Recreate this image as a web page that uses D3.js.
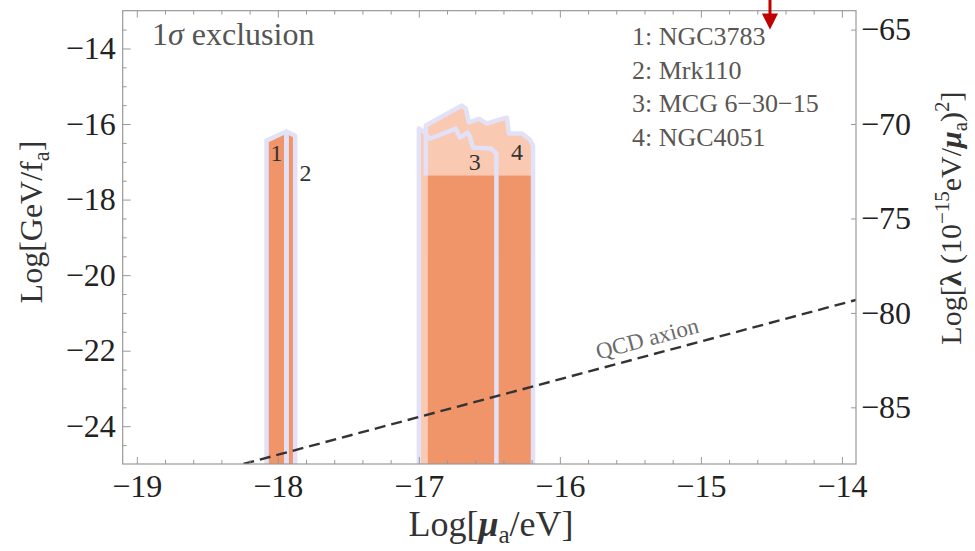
<!DOCTYPE html>
<html>
<head>
<meta charset="utf-8">
<script src="https://cdn.jsdelivr.net/npm/d3@7"></script>
<style>
body { margin: 0; background: #fff; }
svg { display: block; }
text { font-family: "Liberation Serif", "Times New Roman", serif; }
</style>
</head>
<body>
<svg id="chart" width="975" height="551"></svg>
<script>
// axis ticks
var xTicks = [-19, -18, -17, -16, -15, -14];
var yTicks = [-24, -22, -20, -18, -16, -14];
var rightTicks = [-85, -80, -75, -70, -65];

// legend
var sourceNames = ["1: NGC3783", "2: Mrk110", "3: MCG 6\u221230\u221215", "4: NGC4051"];

// top boundaries of the excluded regions (Log mu, Log GeV/f)
var ngc3783X = [-18.08, -17.94];
var ngc3783Y = [-16.44, -16.20];
var mrk110X = [-17.938, -17.877];
var mrk110Y = [-16.20, -16.31];
var mcgX = [-17.0, -16.965, -16.922, -16.738, -16.709, -16.653, -16.638, -16.617, -16.489, -16.45];
var mcgY = [-16.12, -16.20, -16.39, -16.12, -16.36, -16.23, -16.33, -16.62, -16.65, -16.78];
var ngc4051X = [-16.95, -16.695, -16.667, -16.645, -16.574, -16.518, -16.454, -16.376, -16.362, -16.27, -16.213, -16.19];
var ngc4051Y = [-16.04, -15.51, -15.59, -15.96, -15.86, -15.99, -15.91, -15.83, -16.25, -16.25, -16.41, -16.57];
var bandTop = -17.365;

// region number labels
var labelX = [-18.009, -17.803, -16.603, -16.304];
var labelY = [-16.757, -17.286, -16.995, -16.717];

// QCD axion line
var qcdX = [-18.244, -13.9];
var qcdY = [-25, -20.656];

// marker arrow
var arrowX = -14.51;
var arrowY = -13.5;

var svg = d3.select("#chart");
var pl = 122.7, pr = 856, pt = 10.7, pb = 464;

var x = d3.scaleLinear().domain([-19.1, -13.9]).range([pl, pr]);
var y = d3.scaleLinear().domain([-25, -13]).range([pb, pt]);
var y2 = d3.scaleLinear().domain([2 * -25 - 38, 2 * -13 - 38]).range([pb, pt]);

var lavender = "#e3e1f7", dark = "#f0956a", light = "#f9c9b1";

svg.append("clipPath").attr("id", "plot")
	.append("rect").attr("x", pl).attr("y", pt)
	.attr("width", pr - pl).attr("height", pb - pt);

var g = svg.append("g").attr("clip-path", "url(#plot)");

function pts(xs, ys) {
	return xs.map(function (d, i) { return [x(d), y(ys[i])]; });
}
function region(xs, ys) {
	var p = pts(xs, ys);
	p.unshift([x(xs[0]), y(-25) + 10]);
	p.push([x(xs[xs.length - 1]), y(-25) + 10]);
	return p;
}
var line = d3.line();

// light fills
g.append("path").attr("d", line(region(mcgX, mcgY)) + "Z").attr("fill", light);
g.append("path").attr("d", line(region(ngc4051X, ngc4051Y)) + "Z").attr("fill", light);

// dark fills
g.append("path").attr("d", line(region(ngc3783X, ngc3783Y)) + "Z").attr("fill", dark);
g.append("path").attr("d", line(region(mrk110X, mrk110Y)) + "Z").attr("fill", dark);
g.append("rect")
	.attr("x", x(ngc4051X[0]) + 2)
	.attr("y", y(bandTop))
	.attr("width", x(ngc4051X[ngc4051X.length - 1]) - x(ngc4051X[0]) - 2)
	.attr("height", pb - y(bandTop) + 10)
	.attr("fill", dark);

// boundaries
function outline(d) {
	g.append("path").attr("d", line(d))
		.attr("fill", "none").attr("stroke", lavender)
		.attr("stroke-width", 4.5).attr("stroke-linejoin", "round");
}
outline(region(ngc3783X, ngc3783Y));
outline(region(mrk110X, mrk110Y));
outline(region(mcgX, mcgY));
var r4 = region(ngc4051X, ngc4051Y);
r4[0] = [x(ngc4051X[0]), y(bandTop)];
outline(r4);

// QCD axion
var q = pts(qcdX, qcdY);
g.append("path").attr("d", line(q))
	.attr("fill", "none").attr("stroke", "#333")
	.attr("stroke-width", 2.4).attr("stroke-dasharray", "11,6");

var ang = Math.atan2(q[1][1] - q[0][1], q[1][0] - q[0][0]) * 180 / Math.PI;
var lx = x(-15.35), ly = y(-15.35 - 6.756);
svg.append("text")
	.attr("transform", "translate(" + lx + "," + ly + ") rotate(" + ang + ") translate(0,-9)")
	.attr("text-anchor", "middle").attr("font-size", 23).attr("fill", "#6a6a6a")
	.text("QCD axion");

// region labels
svg.selectAll(".rlab").data(labelX).enter().append("text")
	.attr("class", "rlab")
	.attr("x", function (d) { return x(d); })
	.attr("y", function (d, i) { return y(labelY[i]); })
	.attr("dy", "0.35em")
	.attr("text-anchor", "middle").attr("font-size", 24).attr("fill", "#333")
	.text(function (d, i) { return i + 1; });

// axes
var fmt = function (d) { return "\u2212" + Math.abs(d); };
var minorX = d3.range(-95, -69).map(function (d) { return d / 5; })
	.filter(function (d) { return xTicks.indexOf(d) < 0; });
var minorY = d3.range(-49, -26).map(function (d) { return d / 2; })
	.filter(function (d) { return yTicks.indexOf(d) < 0; });

function style(a) {
	a.select(".domain").remove();
	a.selectAll("line").attr("stroke", "#999").attr("stroke-width", 1);
	a.selectAll("text").attr("font-size", 32).attr("fill", "#222")
		.attr("font-family", "Liberation Serif, serif");
}

svg.append("g").attr("transform", "translate(0," + pb + ")")
	.call(d3.axisBottom(x).tickValues(xTicks).tickSize(-7).tickPadding(10).tickFormat(fmt)).call(style);
svg.append("g").attr("transform", "translate(0," + pb + ")")
	.call(d3.axisBottom(x).tickValues(minorX).tickSize(-4).tickFormat("")).call(style);
svg.append("g").attr("transform", "translate(0," + pt + ")")
	.call(d3.axisTop(x).tickValues(xTicks).tickSize(-7).tickFormat("")).call(style);
svg.append("g").attr("transform", "translate(0," + pt + ")")
	.call(d3.axisTop(x).tickValues(minorX).tickSize(-4).tickFormat("")).call(style);
svg.append("g").attr("transform", "translate(" + pl + ",0)")
	.call(d3.axisLeft(y).tickValues(yTicks).tickSize(-8).tickPadding(7).tickFormat(fmt)).call(style);
svg.append("g").attr("transform", "translate(" + pl + ",0)")
	.call(d3.axisLeft(y).tickValues(minorY).tickSize(-4).tickFormat("")).call(style);
svg.append("g").attr("transform", "translate(" + pr + ",0)")
	.call(d3.axisRight(y2).tickValues(rightTicks).tickSize(-5).tickPadding(5).tickFormat(fmt)).call(style);

svg.append("rect").attr("x", pl).attr("y", pt)
	.attr("width", pr - pl).attr("height", pb - pt)
	.attr("fill", "none").attr("stroke", "#999").attr("stroke-width", 1.2);

// arrow
var ax = x(arrowX), ay = y(arrowY);
svg.append("line").attr("x1", ax).attr("x2", ax).attr("y1", 0).attr("y2", ay - 12)
	.attr("stroke", "#c00000").attr("stroke-width", 3);
svg.append("path").attr("d", "M" + (ax - 8) + "," + (ay - 16) + "L" + (ax + 8) + "," + (ay - 16) + "L" + ax + "," + ay + "Z")
	.attr("fill", "#c00000");

// legend
svg.selectAll(".leg").data(sourceNames).enter().append("text")
	.attr("class", "leg")
	.attr("x", 632)
	.attr("y", function (d, i) { return 45 + i * 33.7; })
	.attr("font-size", 26).attr("fill", "#5a5652")
	.text(function (d) { return d; });

var ex = svg.append("text").attr("x", 152).attr("y", 45).attr("font-size", 32).attr("fill", "#555");
ex.append("tspan").text("1");
ex.append("tspan").attr("font-style", "italic").text("\u03c3");
ex.append("tspan").text(" exclusion");

// axis titles
function parts(t, list) {
	list.forEach(function (p) {
		var s = t.append("tspan").text(p.t);
		if (p.b) s.attr("font-weight", "bold");
		if (p.i) s.attr("font-style", "italic");
		if (p.sub) s.attr("font-size", "70%").attr("dy", p.sub);
		if (p.sup) s.attr("font-size", "70%").attr("dy", p.sup);
		if (p.dy) s.attr("dy", p.dy);
	});
}
var xt = svg.append("text").attr("x", 491).attr("y", 536)
	.attr("text-anchor", "middle").attr("font-size", 36).attr("fill", "#333");
parts(xt, [{t: "Log["}, {t: "\u03bc", b: 1, i: 1}, {t: "a", sub: 7}, {t: "/eV]", dy: -7}]);

var yt = svg.append("text").attr("transform", "translate(42,222) rotate(-90)")
	.attr("text-anchor", "middle").attr("font-size", 32).attr("fill", "#333");
parts(yt, [{t: "Log[GeV/f"}, {t: "a", sub: 7}, {t: "]", dy: -7}]);

var rt = svg.append("text").attr("transform", "translate(961,218) rotate(-90)")
	.attr("text-anchor", "middle").attr("font-size", 30).attr("fill", "#333");
parts(rt, [{t: "Log["}, {t: "\u03bb", b: 1}, {t: " (10"}, {t: "\u221215", sup: -12},
	{t: "eV/", dy: 12}, {t: "\u03bc", b: 1, i: 1}, {t: "a", sub: 6}, {t: ")", dy: -6},
	{t: "2", sup: -12}, {t: "]", dy: 12}]);
</script>
</body>
</html>
